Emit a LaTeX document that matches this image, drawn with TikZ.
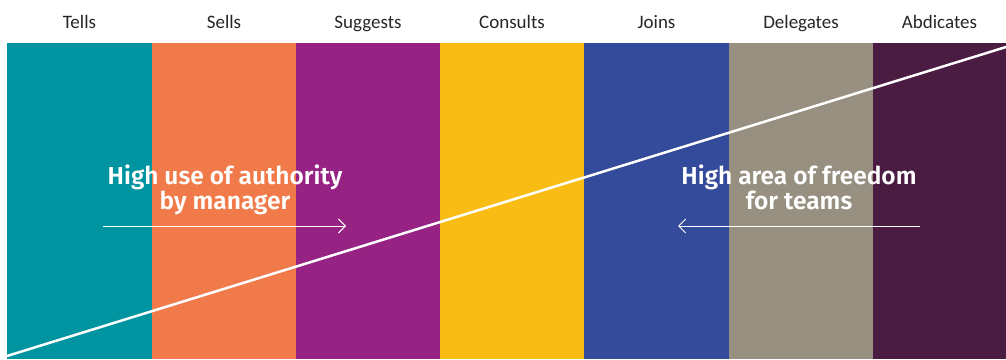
\documentclass[tikz,border=0pt]{standalone}
\usepackage{fontspec}
\setmainfont{Carlito}
\newfontfamily\headfont{Fira Sans SemiBold}
\usetikzlibrary{arrows.meta}
\definecolor{cTeal}{HTML}{0093A0}
\definecolor{cOrange}{HTML}{F07A4A}
\definecolor{cPurple}{HTML}{962283}
\definecolor{cYellow}{HTML}{F9BC15}
\definecolor{cBlue}{HTML}{344A9A}
\definecolor{cTaupe}{HTML}{978F80}
\definecolor{cPlum}{HTML}{4B1C42}
\tikzset{
  bar/.style={draw=none,inner sep=0pt,outer sep=0pt,minimum height=316pt,anchor=north west},
  lab/.style={font=\fontsize{19}{21}\selectfont,text=black!85,anchor=base,inner sep=0pt},
  head/.style={font=\headfont\fontsize{24.5}{25}\selectfont,text=white,align=center,inner sep=0pt,anchor=base},
  dirarrow/.style={draw=white,line width=1pt,-{Straight Barb[length=7pt,width=14pt,line width=1pt]}}
}
\begin{document}
\begin{tikzpicture}[x=1pt,y=-1pt]
\useasboundingbox (0,0) rectangle (1006,359);
\node[bar,fill=cTeal,minimum width=145pt] (b1) at (7,43) {};
\node[bar,fill=cOrange,minimum width=144pt] (b2) at (152,43) {};
\node[bar,fill=cPurple,minimum width=144pt] (b3) at (296,43) {};
\node[bar,fill=cYellow,minimum width=144pt] (b4) at (440,43) {};
\node[bar,fill=cBlue,minimum width=145pt] (b5) at (584,43) {};
\node[bar,fill=cTaupe,minimum width=144pt] (b6) at (729,43) {};
\node[bar,fill=cPlum,minimum width=133pt] (b7) at (873,43) {};
\node[lab] (l1) at (79.5,28.5) {Tells};
\node[lab] (l2) at (224,28.5) {Sells};
\node[lab] (l3) at (368,28.5) {Suggests};
\node[lab] (l4) at (512,28.5) {Consults};
\node[lab] (l5) at (656.5,28.5) {Joins};
\node[lab] (l6) at (801,28.5) {Delegates};
\node[lab] (l7) at (939.5,28.5) {Abdicates};
\coordinate (d1) at (7,356);
\coordinate (d2) at (1006,47);
\draw[white,line width=2.5pt] (d1) -- (d2);
\node[head] (h1) at (225,209) {High use of authority\\by manager};
\node[head] (h2) at (799,209) {High area of freedom\\for teams};
\coordinate (a1s) at (103,226);
\coordinate (a1e) at (346,226);
\coordinate (a2s) at (920,226);
\coordinate (a2e) at (678,226);
\draw[dirarrow] (a1s) -- (a1e);
\draw[dirarrow] (a2s) -- (a2e);
\end{tikzpicture}
\end{document}
